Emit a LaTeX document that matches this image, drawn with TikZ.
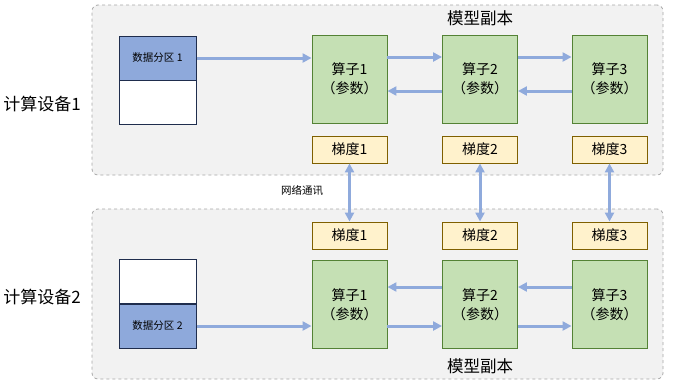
\documentclass[tikz,border=0pt]{standalone}
\usepackage{fontspec}
\setmainfont{Noto Sans CJK SC}
\usetikzlibrary{arrows.meta,positioning}
\definecolor{boxbg}{HTML}{F2F2F2}
\definecolor{boxline}{HTML}{A6A6A6}
\definecolor{datafill}{HTML}{8EA9DB}
\definecolor{dataline}{HTML}{1F2D4D}
\definecolor{opfill}{HTML}{C5E0B4}
\definecolor{opline}{HTML}{548235}
\definecolor{gfill}{HTML}{FFF2CC}
\definecolor{gline}{HTML}{7F6000}
\definecolor{arr}{HTML}{8FAADC}
\tikzset{
  container/.style={draw=boxline, fill=boxbg, dashed, rounded corners=6pt, line width=0.8pt, inner sep=0pt},
  datablk/.style={draw=dataline, line width=1pt, minimum width=77pt, minimum height=44pt, inner sep=0pt, font=\fontsize{10.5}{12}\selectfont},
  opbox/.style={draw=opline, fill=opfill, line width=0.9pt, minimum width=75pt, minimum height=88pt, inner sep=0pt, align=center, font=\fontsize{14}{19}\selectfont},
  gbox/.style={draw=gline, fill=gfill, line width=0.9pt, minimum width=75pt, minimum height=27pt, inner sep=0pt, font=\fontsize{14}{16}\selectfont},
  flow/.style={draw=arr, line width=3pt, -{Triangle[length=9pt,width=9pt]}},
  bflow/.style={draw=arr, line width=3pt, {Triangle[length=9pt,width=9pt]}-{Triangle[length=9pt,width=9pt]}},
}
\begin{document}
\begin{tikzpicture}[x=1pt,y=-1pt]
\useasboundingbox (0,0) rectangle (692,391);
% containers
\node[container, minimum width=571pt, minimum height=170pt] (c1) at (377.5,90) {};
\node[container, minimum width=571pt, minimum height=170pt] (c2) at (377.5,294) {};
\node[font=\fontsize{16.5}{18}\selectfont] (t1) at (480,18) {模型副本};
\node[font=\fontsize{16.5}{18}\selectfont] (t2) at (480,366) {模型副本};
\node[font=\fontsize{17}{19}\selectfont] (dev1) at (42,104) {计算设备1};
\node[font=\fontsize{17}{19}\selectfont] (dev2) at (42,297) {计算设备2};
% data partitions
\node[datablk, fill=datafill] (d1a) at (157.5,58) {数据分区 1};
\node[datablk, fill=white] (d1b) at (157.5,102) {};
\node[datablk, fill=white] (d2b) at (157.5,281.5) {};
\node[datablk, fill=datafill] (d2a) at (157.5,326) {数据分区 2};
% operators top
\node[opbox] (o11) at (349.5,79) {算子1\\（参数）};
\node[opbox] (o12) at (480,79) {算子2\\（参数）};
\node[opbox] (o13) at (609.5,79) {算子3\\（参数）};
\node[gbox] (g11) at (349.5,149.5) {梯度1};
\node[gbox] (g12) at (480,149.5) {梯度2};
\node[gbox] (g13) at (609.5,149.5) {梯度3};
% operators bottom
\node[opbox] (o21) at (349.5,304.5) {算子1\\（参数）};
\node[opbox] (o22) at (480,304.5) {算子2\\（参数）};
\node[opbox] (o23) at (609.5,304.5) {算子3\\（参数）};
\node[gbox] (g21) at (349.5,235.5) {梯度1};
\node[gbox] (g22) at (480,235.5) {梯度2};
\node[gbox] (g23) at (609.5,235.5) {梯度3};
% top arrows
\draw[flow] (d1a.east) -- (d1a.east -| o11.west);
\draw[flow] ([yshift=22pt]o11.east) -- ([yshift=22pt]o12.west);
\draw[flow] ([yshift=22pt]o12.east) -- ([yshift=22pt]o13.west);
\draw[flow] ([yshift=-12pt]o12.west) -- ([yshift=-12pt]o11.east);
\draw[flow] ([yshift=-12pt]o13.west) -- ([yshift=-12pt]o12.east);
% bottom arrows
\draw[flow] (d2a.east) -- (d2a.east -| o21.west);
\draw[flow] ([yshift=-21.5pt]o21.east) -- ([yshift=-21.5pt]o22.west);
\draw[flow] ([yshift=-21.5pt]o22.east) -- ([yshift=-21.5pt]o23.west);
\draw[flow] ([yshift=17.5pt]o22.west) -- ([yshift=17.5pt]o21.east);
\draw[flow] ([yshift=17.5pt]o23.west) -- ([yshift=17.5pt]o22.east);
% network
\draw[bflow] (g11.south) -- (g21.north);
\draw[bflow] (g12.south) -- (g22.north);
\draw[bflow] (g13.south) -- (g23.north);
\node[font=\fontsize{10.5}{12}\selectfont] (net) at (302,191) {网络通讯};
\end{tikzpicture}
\end{document}
